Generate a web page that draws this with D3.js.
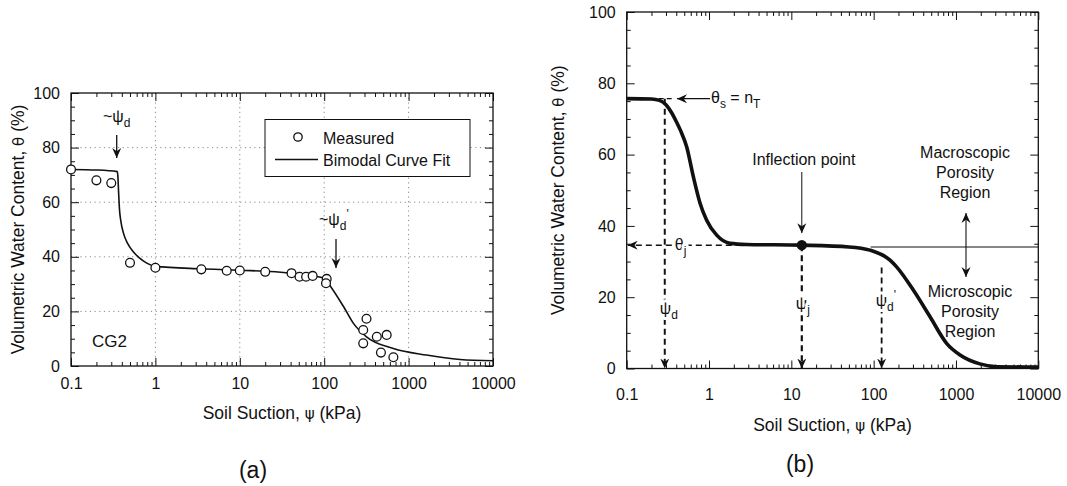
<!DOCTYPE html>
<html>
<head>
<meta charset="utf-8">
<script src="https://cdn.jsdelivr.net/npm/d3@7"></script>
<style>
  html, body { margin: 0; padding: 0; background: #fff; }
  svg { display: block; }
  text { font-family: "Liberation Sans", Arial, Helvetica, sans-serif; fill: #111; }
</style>
</head>
<body>
<svg id="fig" width="1067" height="486"></svg>
<script>
// ---- axis data ----
const suctionTicks = [0.1, 1, 10, 100, 1000, 10000];
const suctionLabels = ["0.1", "1", "10", "100", "1000", "10000"];
const thetaTicks = [0, 20, 40, 60, 80, 100];
const thetaLabels = ["0", "20", "40", "60", "80", "100"];
const gridSuction = [1, 10, 100, 1000];
const gridTheta = [20, 40, 60, 80];

// ---- panel (a): CG2 measured points ----
const measuredSuction = [0.1, 0.2, 0.3, 0.5, 1, 3.5, 7, 10, 20, 41, 51, 61, 73, 107, 105, 317, 290, 290, 420, 550, 470, 660];
const measuredTheta   = [72, 68, 67, 37.8, 36, 35.4, 34.9, 35, 34.5, 34, 32.7, 32.7, 33, 31.9, 30.3, 17.3, 13.2, 8.3, 10.7, 11.4, 4.9, 3.2];

// ---- panel (a): bimodal curve fit ----
const fitSuction = [0.1, 0.2, 0.354, 0.36, 0.366, 0.374, 0.39, 0.42, 0.47, 0.55, 0.65, 0.79, 1, 3.5, 10, 40, 100, 110, 170, 221, 317, 660, 1630, 4060, 10000];
const fitTheta   = [72, 71.8, 71.2, 69, 64, 58, 53, 48.5, 44.8, 41.8, 39.5, 37.7, 36.5, 35.6, 35.1, 34, 32.2, 30.6, 21.7, 15.7, 10.7, 6.4, 4, 2.4, 1.9];

// ---- panel (b): idealised bimodal SWCC ----
const swccSuction = [0.1, 0.2, 0.25, 0.3, 0.35, 0.4, 0.45, 0.535, 0.645, 0.78, 0.936, 1.24, 1.8, 2.86, 13.4, 50, 90, 158, 190, 303, 484, 773, 1120, 1950, 3160, 10000];
const swccTheta   = [75.7, 75.6, 75.2, 74.0, 71.8, 69.3, 66.8, 62.2, 53.8, 46.3, 41.6, 37.4, 35.1, 34.8, 34.6, 34.1, 33.2, 30.4, 28.5, 22, 14.5, 7, 3.8, 1.3, 0.5, 0.4];

// ---- panel (b): key points ----
const thetaS = 75.7;   // saturated water content = total porosity
const psiD = 0.29;     // macro-pore air-entry suction
const psiJ = 13.4;     // inflection (junction) suction
const thetaJ = 34.6;   // water content at the junction
const psiD2 = 125;     // micro-pore air-entry suction
const thetaMicro = 34.1; // macro / micro boundary
const psiBoundaryStart = 92;

const svg = d3.select("#fig");
const FONT = 16;
const TITLE = 17.5;

// arrowhead marker
const defs = svg.append("defs");
defs.append("marker")
  .attr("id", "head")
  .attr("viewBox", "0 0 10 10")
  .attr("refX", 10).attr("refY", 5)
  .attr("markerWidth", 10).attr("markerHeight", 10)
  .attr("markerUnits", "userSpaceOnUse")
  .attr("orient", "auto-start-reverse")
  .append("path").attr("d", "M0,0.5 L10,5 L0,9.5 L3.2,5 Z").attr("fill", "#111");

function minorLog() {
  const out = [];
  [0.1, 1, 10, 100, 1000].forEach(d => { for (let k = 2; k <= 9; k++) out.push(d * k); });
  return out;
}
const minorTheta = d3.range(5, 100, 5).filter(v => v % 20 !== 0);

function styleAxis(sel) {
  sel.select(".domain").remove();
  sel.selectAll("line").attr("stroke", "#111").attr("stroke-width", 1);
  sel.attr("font-family", null).attr("font-size", FONT);
  sel.selectAll("text").attr("fill", "#111");
}

function frame(x, y, xPad, yPad) {
  const [x0, x1] = x.range();
  const [yb0, yt] = y.range();
  const g = svg.append("g");
  // bottom
  g.append("g").attr("transform", `translate(0,${yb0})`)
    .call(d3.axisBottom(x).tickValues(suctionTicks).tickFormat((d, i) => suctionLabels[i]).tickSize(-8).tickPadding(xPad))
    .call(styleAxis);
  g.append("g").attr("transform", `translate(0,${yb0})`)
    .call(d3.axisBottom(x).tickValues(minorLog()).tickFormat("").tickSize(-4))
    .call(styleAxis);
  // top
  g.append("g").attr("transform", `translate(0,${yt})`)
    .call(d3.axisTop(x).tickValues(suctionTicks).tickFormat("").tickSize(-8))
    .call(styleAxis);
  g.append("g").attr("transform", `translate(0,${yt})`)
    .call(d3.axisTop(x).tickValues(minorLog()).tickFormat("").tickSize(-4))
    .call(styleAxis);
  // left
  g.append("g").attr("transform", `translate(${x0},0)`)
    .call(d3.axisLeft(y).tickValues(thetaTicks).tickFormat((d, i) => thetaLabels[i]).tickSize(-8).tickPadding(yPad))
    .call(styleAxis);
  g.append("g").attr("transform", `translate(${x0},0)`)
    .call(d3.axisLeft(y).tickValues(minorTheta).tickFormat("").tickSize(-4))
    .call(styleAxis);
  // right
  g.append("g").attr("transform", `translate(${x1},0)`)
    .call(d3.axisRight(y).tickValues(thetaTicks).tickFormat("").tickSize(-8))
    .call(styleAxis);
  g.append("g").attr("transform", `translate(${x1},0)`)
    .call(d3.axisRight(y).tickValues(minorTheta).tickFormat("").tickSize(-4))
    .call(styleAxis);
  g.append("rect")
    .attr("x", x0).attr("y", yt).attr("width", x1 - x0).attr("height", yb0 - yt)
    .attr("fill", "none").attr("stroke", "#111").attr("stroke-width", 1.3);
}

function axisTitles(x, y, xTitleY, yTitleX) {
  const [x0, x1] = x.range();
  const [yb0, yt] = y.range();
  const xt = svg.append("text").attr("x", (x0 + x1) / 2).attr("y", xTitleY)
    .attr("text-anchor", "middle").attr("font-size", TITLE);
  xt.append("tspan").text("Soil Suction, ");
  xt.append("tspan").text("ψ").attr("font-family", "DejaVu Sans").attr("font-size", 15);
  xt.append("tspan").text(" (kPa)");
  const cy = (yb0 + yt) / 2;
  const yt2 = svg.append("text").attr("transform", `translate(${yTitleX},${cy}) rotate(-90)`)
    .attr("text-anchor", "middle").attr("font-size", TITLE);
  yt2.append("tspan").text("Volumetric Water Content, ");
  yt2.append("tspan").text("θ").attr("font-family", "DejaVu Sans").attr("font-size", 15);
  yt2.append("tspan").text(" (%)");
}

// label with a subscript (and optional trailing parts)
function subLabel(x, y, parts, anchor, halo) {
  const t = svg.append("text").attr("x", x).attr("y", y).attr("font-size", FONT)
    .attr("text-anchor", anchor || "start");
  if (halo) t.attr("stroke", "#fff").attr("stroke-width", 6).attr("paint-order", "stroke").attr("stroke-linejoin", "round");
  let shift = 0;
  parts.forEach(p => {
    const s = t.append("tspan").text(p.t);
    const target = p.sub ? 5 : (p.sup ? -7 : 0);
    s.attr("dy", target - shift);
    shift = target;
    if (p.sub || p.sup) s.attr("font-size", 12);
  });
  return t;
}

function arrow(x1, y1, x2, y2, opts) {
  const o = opts || {};
  const l = svg.append("line").attr("x1", x1).attr("y1", y1).attr("x2", x2).attr("y2", y2)
    .attr("stroke", "#111").attr("stroke-width", o.w || 1.2)
    .attr("marker-end", "url(#head)");
  if (o.dash) l.attr("stroke-dasharray", o.dash);
  if (o.both) l.attr("marker-start", "url(#head)");
  return l;
}

// =================== panel (a) ===================
const xa = d3.scaleLog().domain([0.1, 10000]).range([71, 493]);
const ya = d3.scaleLinear().domain([0, 100]).range([366, 93]);

// dotted grid
const ga = svg.append("g").attr("stroke", "#8a8a8a").attr("stroke-width", 1).attr("stroke-dasharray", "1.2,3.5");
ga.selectAll(".gx").data(gridSuction).join("line")
  .attr("x1", d => xa(d)).attr("x2", d => xa(d)).attr("y1", ya(100)).attr("y2", ya(0));
ga.selectAll(".gy").data(gridTheta).join("line")
  .attr("y1", d => ya(d)).attr("y2", d => ya(d)).attr("x1", xa(0.1)).attr("x2", xa(10000));

frame(xa, ya, 12, 11);
axisTitles(xa, ya, 419, 24);

// fitted curve
const fitPts = fitSuction.map((s, i) => [s, fitTheta[i]]);
svg.append("path")
  .attr("d", d3.line().x(d => xa(d[0])).y(d => ya(d[1])).curve(d3.curveMonotoneX)(fitPts))
  .attr("fill", "none").attr("stroke", "#111").attr("stroke-width", 1.6);

// measured points
const measPts = measuredSuction.map((s, i) => [s, measuredTheta[i]]);
svg.append("g").selectAll("circle").data(measPts).join("circle")
  .attr("cx", d => xa(d[0])).attr("cy", d => ya(d[1])).attr("r", 4.4)
  .attr("fill", "#fff").attr("stroke", "#111").attr("stroke-width", 1.3);

// legend
svg.append("rect").attr("x", 265).attr("y", 119.5).attr("width", 205).attr("height", 57)
  .attr("fill", "#fff").attr("stroke", "#111").attr("stroke-width", 1);
svg.append("circle").attr("cx", 298).attr("cy", 137).attr("r", 4.2)
  .attr("fill", "#fff").attr("stroke", "#111").attr("stroke-width", 1.3);
svg.append("text").attr("x", 323).attr("y", 143.5).attr("font-size", FONT).text("Measured");
svg.append("line").attr("x1", 275).attr("x2", 318).attr("y1", 159.5).attr("y2", 159.5)
  .attr("stroke", "#111").attr("stroke-width", 1.3);
svg.append("text").attr("x", 323).attr("y", 165.5).attr("font-size", FONT).text("Bimodal Curve Fit");

// air-entry annotations
subLabel(103, 122, [{ t: "~ψ" }, { t: "d", sub: true }]);
arrow(xa(0.348), 135, xa(0.348), 158, { w: 1.3 });
subLabel(319, 225, [{ t: "~ψ" }, { t: "d", sub: true }, { t: "'", sup: true }]);
arrow(xa(138), 239, xa(138), 268, { w: 1.3 });

svg.append("text").attr("x", 92).attr("y", 347).attr("font-size", 17).text("CG2");

svg.append("text").attr("x", 253).attr("y", 478).attr("text-anchor", "middle")
  .attr("font-family", "'Liberation Serif', 'DejaVu Serif', serif").attr("font-size", 23).text("(a)");

// =================== panel (b) ===================
const xb = d3.scaleLog().domain([0.1, 10000]).range([626.7, 1038.3]);
const yb = d3.scaleLinear().domain([0, 100]).range([368.5, 12]);

frame(xb, yb, 20, 11);
axisTitles(xb, yb, 431, 564);

// macro / micro boundary
svg.append("line").attr("x1", xb(psiBoundaryStart)).attr("x2", xb(10000))
  .attr("y1", yb(thetaMicro)).attr("y2", yb(thetaMicro))
  .attr("stroke", "#111").attr("stroke-width", 1.1);

// dashed construction lines
svg.append("line").attr("x1", xb(0.1)).attr("x2", xb(psiD) + 10)
  .attr("y1", yb(thetaS)).attr("y2", yb(thetaS))
  .attr("stroke", "#111").attr("stroke-width", 1.2).attr("stroke-dasharray", "5,3");
arrow(xb(psiD), yb(thetaS), xb(psiD), yb(0), { w: 2, dash: "6,4" });
arrow(xb(psiJ), yb(thetaJ), xb(0.1) + 1, yb(thetaJ), { w: 1.5, dash: "6,4" });
arrow(xb(psiJ), yb(thetaJ), xb(psiJ), yb(0), { w: 2.2, dash: "6,4" });
arrow(xb(psiD2), yb(28.3), xb(psiD2), yb(0), { w: 1.8, dash: "6,4" });

// SWCC
const swccPts = swccSuction.map((s, i) => [s, swccTheta[i]]);
svg.append("path")
  .attr("d", d3.line().x(d => xb(d[0])).y(d => yb(d[1])).curve(d3.curveMonotoneX)(swccPts))
  .attr("fill", "none").attr("stroke", "#111").attr("stroke-width", 3.6).attr("stroke-linejoin", "round");

// inflection point
svg.append("circle").attr("cx", xb(psiJ)).attr("cy", yb(thetaJ)).attr("r", 5.2).attr("fill", "#111");
svg.append("text").attr("x", xb(psiJ) + 2).attr("y", 165).attr("text-anchor", "middle")
  .attr("font-size", FONT).text("Inflection point");
arrow(xb(psiJ), 172, xb(psiJ), yb(thetaJ) - 12, { w: 1 });

// θs = nT
arrow(710, yb(thetaS), 677, yb(thetaS), { w: 1.3 });
subLabel(711, 103, [{ t: "θ" }, { t: "s", sub: true }, { t: " = n" }, { t: "T", sub: true }]);

// labels on the dashed lines
subLabel(xb(psiD) + 10, 250, [{ t: "θ" }, { t: "j", sub: true }], "start", true);
subLabel(xb(psiD) - 5, 314, [{ t: "ψ" }, { t: "d", sub: true }], "start", true);
subLabel(xb(psiJ) - 6, 309, [{ t: "ψ" }, { t: "j", sub: true }], "start", true);
subLabel(xb(psiD2) - 6, 306, [{ t: "ψ" }, { t: "d", sub: true }, { t: "'", sup: true }], "start", true);

// porosity regions
const macro = svg.append("text").attr("text-anchor", "middle").attr("font-size", FONT);
["Macroscopic", "Porosity", "Region"].forEach((s, i) =>
  macro.append("tspan").attr("x", 965).attr("y", 158 + i * 20).text(s));
const micro = svg.append("text").attr("text-anchor", "middle").attr("font-size", FONT);
["Microscopic", "Porosity", "Region"].forEach((s, i) =>
  micro.append("tspan").attr("x", 970).attr("y", 297 + i * 20).text(s));
arrow(966, 245, 966, 213, { w: 1.1 });
arrow(966, 245, 966, 277, { w: 1.1 });

svg.append("text").attr("x", 800).attr("y", 472).attr("text-anchor", "middle")
  .attr("font-family", "'Liberation Serif', 'DejaVu Serif', serif").attr("font-size", 23).text("(b)");
</script>
</body>
</html>
